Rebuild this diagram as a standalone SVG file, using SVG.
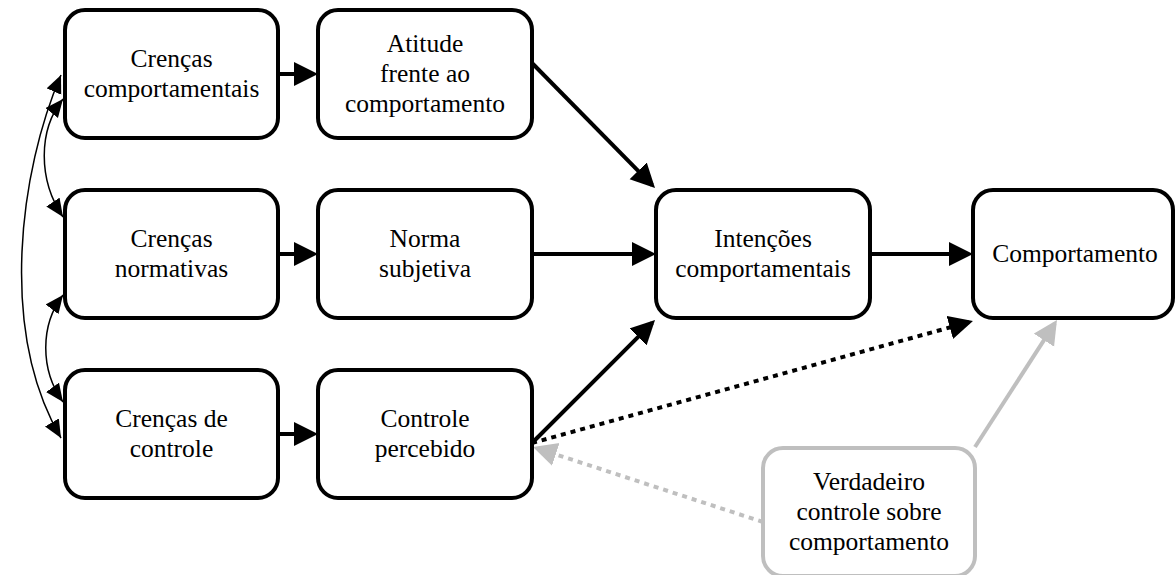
<svg xmlns="http://www.w3.org/2000/svg" width="1176" height="575" viewBox="0 0 1176 575">
<style>
.box{fill:#fff;stroke:#000;stroke-width:4}
.gbox{fill:#fff;stroke:#bfbfbf;stroke-width:4}
.lbl{font-family:'Liberation Serif','Times New Roman',serif;font-size:25.5px;fill:#000;text-anchor:middle}
.thick{stroke:#000;stroke-width:4;fill:none;marker-end:url(#ah)}
.dot{stroke:#000;stroke-width:4;fill:none;stroke-dasharray:5 5;marker-end:url(#ah)}
.gdot{stroke:#bfbfbf;stroke-width:4;fill:none;stroke-dasharray:5 5;marker-end:url(#ahg)}
.gsol{stroke:#bfbfbf;stroke-width:4;fill:none;marker-end:url(#ahg)}
.thin{stroke:#000;stroke-width:1.5;fill:none;marker-start:url(#sh);marker-end:url(#sh)}
</style>
<defs>
<marker id="ah" markerUnits="userSpaceOnUse" markerWidth="26" markerHeight="26" refX="20" refY="12" orient="auto"><path d="M0,0 L24,12 L0,24 z" fill="#000"/></marker>
<marker id="ahg" markerUnits="userSpaceOnUse" markerWidth="26" markerHeight="26" refX="20" refY="12" orient="auto"><path d="M0,0 L24,12 L0,24 z" fill="#bfbfbf"/></marker>
<marker id="sh" markerUnits="userSpaceOnUse" markerWidth="20" markerHeight="18" refX="18" refY="8" orient="auto-start-reverse"><path d="M0,0 L18,8 L0,16 z" fill="#000"/></marker>
</defs>
<g id="connectors">
<line class="thick" x1="278" y1="74" x2="314" y2="74"/>
<line class="thick" x1="278" y1="254" x2="314" y2="254"/>
<line class="thick" x1="278" y1="434" x2="314" y2="434"/>
<line class="thick" x1="532" y1="63" x2="652.2" y2="185.1"/>
<line class="thick" x1="532" y1="254" x2="652" y2="254"/>
<line class="thick" x1="532" y1="443" x2="652.2" y2="322.8"/>
<line class="thick" x1="870" y1="254" x2="969" y2="254"/>
<line class="dot" x1="532" y1="443" x2="969.1" y2="322.1"/>
<line class="gdot" x1="763" y1="522" x2="536.8" y2="448.2"/>
<line class="gsol" x1="975" y1="447" x2="1054.8" y2="323.4"/>
<path class="thin" d="M61,75 C20,170 -2,330 61,438"/>
<path class="thin" d="M63,99 C38,130 38,180 63,217"/>
<path class="thin" d="M63,295 C40,325 40,370 63,402"/>
</g>
<g id="n1"><rect class="box" x="65" y="10" width="213" height="128" rx="20"/><text class="lbl" x="171.5" y="67">Crenças</text><text class="lbl" x="171.5" y="97">comportamentais</text></g>
<g id="n2"><rect class="box" x="318" y="10" width="214" height="128" rx="20"/><text class="lbl" x="425" y="52">Atitude</text><text class="lbl" x="425" y="82">frente ao</text><text class="lbl" x="425" y="112">comportamento</text></g>
<g id="n3"><rect class="box" x="65" y="190" width="213" height="128" rx="20"/><text class="lbl" x="171.5" y="247">Crenças</text><text class="lbl" x="171.5" y="277">normativas</text></g>
<g id="n4"><rect class="box" x="318" y="190" width="214" height="128" rx="20"/><text class="lbl" x="425" y="247">Norma</text><text class="lbl" x="425" y="277">subjetiva</text></g>
<g id="n5"><rect class="box" x="65" y="370" width="213" height="128" rx="20"/><text class="lbl" x="171.5" y="427">Crenças de</text><text class="lbl" x="171.5" y="457">controle</text></g>
<g id="n6"><rect class="box" x="318" y="370" width="214" height="128" rx="20"/><text class="lbl" x="425" y="427">Controle</text><text class="lbl" x="425" y="457">percebido</text></g>
<g id="n7"><rect class="box" x="656" y="190" width="214" height="128" rx="20"/><text class="lbl" x="763" y="247">Intenções</text><text class="lbl" x="763" y="277">comportamentais</text></g>
<g id="n8"><rect class="box" x="973" y="190" width="200" height="128" rx="20"/><text class="lbl" x="1075" y="262">Comportamento</text></g>
<g id="n9"><rect class="gbox" x="763" y="448" width="212" height="128" rx="20"/><text class="lbl" x="869" y="490">Verdadeiro</text><text class="lbl" x="869" y="520">controle sobre</text><text class="lbl" x="869" y="550">comportamento</text></g>
</svg>
